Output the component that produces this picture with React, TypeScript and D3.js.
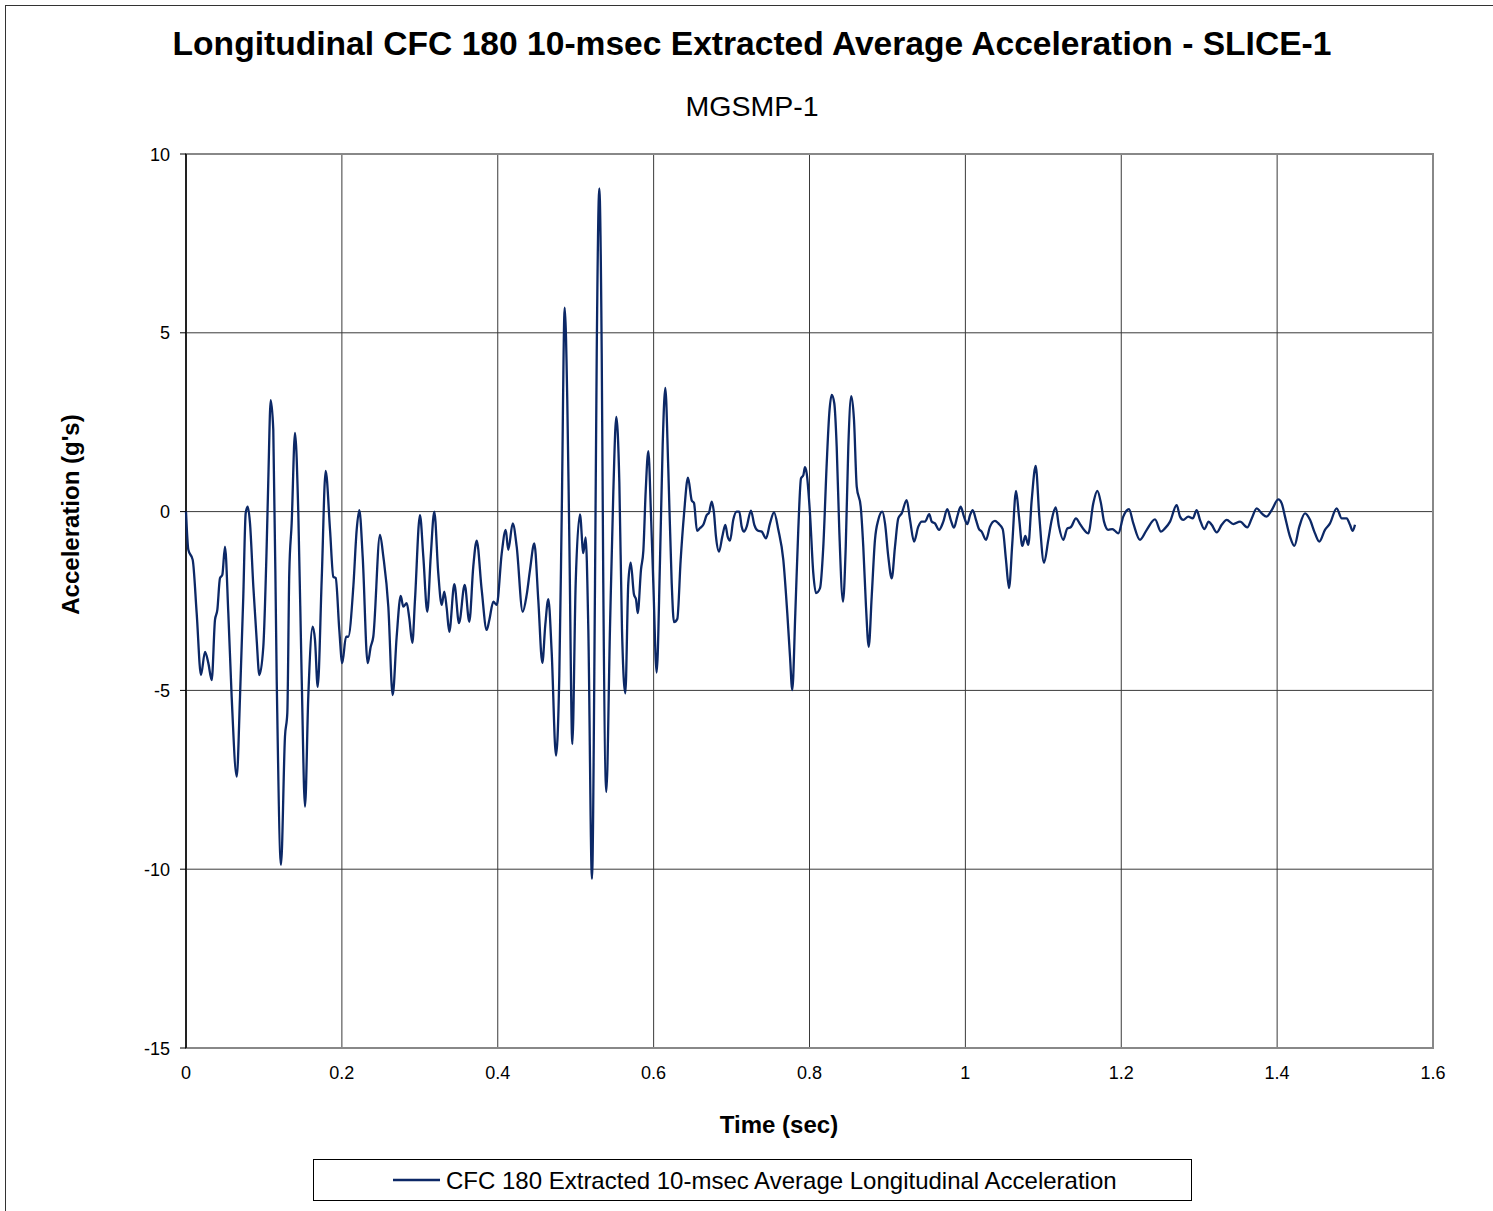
import React from "react";
import * as d3 from "d3";

const TITLE = "Longitudinal CFC 180 10-msec Extracted Average Acceleration - SLICE-1";
const SUBTITLE = "MGSMP-1";
const X_LABEL = "Time (sec)";
const Y_LABEL = "Acceleration (g's)";
const LEGEND_LABEL = "CFC 180 Extracted 10-msec Average Longitudinal Acceleration";

const X_TICKS = [0, 0.2, 0.4, 0.6, 0.8, 1, 1.2, 1.4, 1.6];
const Y_TICKS = [10, 5, 0, -5, -10, -15];

const TIME = [
  0, 0.003, 0.0086, 0.0137, 0.0192, 0.0244, 0.0286, 0.033, 0.0372, 0.0402, 0.0436, 0.0466, 0.05, 0.0543, 0.0586, 0.0651,
  0.0693, 0.0735, 0.0766, 0.0792, 0.0821, 0.0864, 0.0907, 0.0941, 0.0992, 0.1035, 0.1056, 0.1087, 0.112, 0.1164, 0.1219,
  0.127, 0.13, 0.1325, 0.1356, 0.1399, 0.1441, 0.1485, 0.1527, 0.1569, 0.1626, 0.1655, 0.169, 0.1741, 0.1792, 0.1848,
  0.189, 0.1921, 0.1967, 0.2005, 0.2053, 0.2082, 0.2147, 0.219, 0.2224,
  0.2267, 0.2331, 0.237, 0.2403, 0.2489, 0.2532, 0.2596, 0.2652, 0.2703, 0.2755, 0.2788, 0.2832, 0.2865, 0.2904, 0.2938,
  0.3002, 0.3045, 0.3096, 0.314, 0.3186, 0.3237, 0.3281, 0.3314, 0.3345, 0.3378, 0.3443, 0.3503, 0.3576, 0.3635, 0.3686,
  0.373, 0.3794, 0.3858, 0.3892, 0.3943, 0.3987, 0.4051, 0.4102, 0.4135, 0.4192, 0.4243, 0.432, 0.4371, 0.4414, 0.4469,
  0.452, 0.4572, 0.461, 0.4649,
  0.4692, 0.4747, 0.479, 0.4821, 0.4859, 0.4892, 0.4918, 0.4957, 0.5, 0.5055, 0.5098, 0.5128, 0.5162, 0.5209, 0.5248,
  0.527, 0.5303, 0.5334, 0.5354, 0.5393, 0.544, 0.5483, 0.5521, 0.556, 0.5594, 0.5637, 0.5675, 0.5706, 0.5748, 0.5774,
  0.5796, 0.5838, 0.5868, 0.5898, 0.5932, 0.5966, 0.5996, 0.6039, 0.6082, 0.6116, 0.615, 0.6188, 0.6232, 0.6261, 0.6304,
  0.6347, 0.639, 0.6441, 0.6489, 0.6518, 0.6557, 0.6595,
  0.6637, 0.6681, 0.6711, 0.6745, 0.6775, 0.68, 0.6839, 0.6881, 0.692, 0.695, 0.698, 0.7022, 0.7066, 0.7099, 0.713, 0.716,
  0.7194, 0.7249, 0.7292, 0.7335, 0.7387, 0.7442, 0.7493, 0.7545, 0.76, 0.7664, 0.7715, 0.775, 0.7779, 0.7818, 0.7856,
  0.7891, 0.7921, 0.7942, 0.7964, 0.8006, 0.8049, 0.8083, 0.8135, 0.8177, 0.8221, 0.8254, 0.8285, 0.8318, 0.8349, 0.8382,
  0.843, 0.8465, 0.8498, 0.8536, 0.8571, 0.8606, 0.8657, 0.869, 0.8725, 0.876, 0.8798, 0.884, 0.8883, 0.8934, 0.8969,
  0.9011, 0.9055, 0.9097, 0.9139, 0.9183, 0.9247, 0.929, 0.9341, 0.9396, 0.944, 0.9482, 0.9537, 0.9568, 0.961, 0.9662,
  0.9717, 0.9768, 0.9812, 0.9854, 0.9896, 0.994, 0.9982, 1.0025, 1.006, 1.0094, 1.0136, 1.0171, 1.0209, 1.0265, 1.0316,
  1.038, 1.0423, 1.0479, 1.0521, 1.056, 1.0602, 1.065, 1.0688, 1.0731, 1.0769, 1.0807, 1.0851, 1.0902, 1.0949, 1.1009,
  1.1064, 1.1108, 1.1159, 1.1201, 1.1256, 1.1308, 1.1351, 1.1419, 1.1471, 1.1522, 1.1577, 1.1641, 1.1693, 1.174, 1.1779,
  1.1834, 1.1885, 1.192,
  1.1962, 1.2026, 1.2099, 1.2155, 1.224, 1.2327, 1.2433, 1.251, 1.2561, 1.2626, 1.2711, 1.2754, 1.2796, 1.286, 1.2917,
  1.2968, 1.301, 1.3066, 1.3122, 1.3161, 1.3225, 1.3289, 1.3353, 1.3438, 1.3524, 1.3617, 1.3674, 1.3738, 1.3802, 1.3866,
  1.393, 1.4015, 1.4059, 1.4101, 1.4165, 1.4221, 1.4285, 1.4358, 1.4422, 1.4486, 1.4541, 1.4614, 1.4678, 1.4764, 1.4829,
  1.4893, 1.4935, 1.497, 1.4999,
];

const ACCEL = [
  0, -1.07, -1.35, -2.84, -4.57, -3.92, -4.23, -4.71, -3.03, -2.75, -1.86, -1.77, -0.98, -2.84, -5.18, -7.41,
  -5.18, -2.38, -0.04, 0.14, -0.32, -2.1, -3.59, -4.57, -3.78, -0.98, 0.88, 3.12, 2.28, -4.71, -9.88,
  -6.29, -5.63, -1.72, -0.32, 2.2, -0.04, -4.71, -8.25, -5.18, -3.22, -3.59, -4.9, -1.91, 1.14, -0.51,
  -1.82, -1.86, -3.31, -4.24, -3.5, -3.5, -2.1, -0.51, 0.04,
  -1.26, -4.24, -3.78, -3.5, -0.65, -1.26, -2.66, -5.13, -3.5, -2.36, -2.66, -2.56, -2.98, -3.67, -2.47,
  -0.1, -1.26, -2.8, -1.26, 0, -1.73, -2.61, -2.24, -2.7, -3.36, -2.03, -3.12, -2.05, -3.08, -1.54,
  -0.81, -2.19, -3.31, -3.03, -2.52, -2.61, -1.17, -0.51, -1.07, -0.33, -0.98, -2.8, -2.33, -1.63, -0.89,
  -2.47, -4.23, -3.17, -2.45,
  -3.93, -6.82, -4.57, -0.07, 5.7, 3.13, -0.71, -6.5, -2.0, -0.08, -1.16, -0.72, -3.28, -10.27, -2.0,
  4.42, 9.04, 4.42, -2.0, -7.84, -3.28, 0.56, 2.65, 0.83, -3.28, -5.08, -2.0, -1.43, -2.32, -2.45,
  -2.84, -1.62, -1.1, 0.56, 1.69, -0.08, -2.0, -4.5, -1.35, 1.85, 3.46, 1.21, -2.0, -3.09, -3.0,
  -1.35, -0.07, 0.95, 0.31, 0.24, -0.54, -0.46,
  -0.37, -0.1, -0.03, 0.28, -0.05, -0.7, -1.12, -0.7, -0.37, -0.7, -0.81, -0.23, 0, 0, -0.42, -0.56,
  -0.42, 0.03, -0.37, -0.53, -0.56, -0.75, -0.33, -0.02, -0.51, -1.35, -2.84, -4.06, -4.99, -2.84, -0.51,
  0.93, 1.02, 1.24, 1.07, -0.05, -1.73, -2.28, -2.14, -0.98, 1.35, 2.75, 3.26, 3.03, 1.81, -0.51,
  -2.52, -0.98, 1.81, 3.23, 2.56, 0.7, 0.14, -0.98, -2.66, -3.78, -2.38, -0.79, -0.23, 0, -0.33,
  -1.26, -1.87, -0.98, -0.19, -0.05, 0.32, -0.23, -0.84, -0.42, -0.28, -0.28, -0.07, -0.28, -0.33, -0.51,
  -0.28, 0.07, -0.23, -0.45, -0.14, 0.14, -0.14, -0.35, -0.1, 0.04, -0.23, -0.47, -0.56, -0.79, -0.42,
  -0.26, -0.33, -0.49, -1.35, -2.14, -0.89, 0.58, -0.14, -0.96, -0.68, -0.93, 0.32, 1.28, -0.14, -1.43,
  -0.79, -0.23, 0.12, -0.42, -0.79, -0.47, -0.44, -0.19, -0.35, -0.51, -0.61, 0.23, 0.58, 0.23, -0.28,
  -0.51, -0.49, -0.54,
  -0.61, -0.14, 0.07, -0.33, -0.79, -0.51, -0.22, -0.56, -0.47, -0.28, 0.18, -0.14, -0.23, -0.14, -0.19,
  0.04, -0.23, -0.49, -0.28, -0.37, -0.58, -0.37, -0.23, -0.35, -0.28, -0.44, -0.19, 0.09, -0.05, -0.14,
  0.04, 0.34, 0.23, -0.14, -0.7, -0.96, -0.42, -0.05, -0.23, -0.61, -0.84, -0.51, -0.33, 0.09, -0.19,
  -0.19, -0.37, -0.54, -0.37,
];

const W = 1493;
const H = 1211;
const PLOT = { left: 186, right: 1433, top: 154, bottom: 1048 };
const FONT = "'Liberation Sans', Arial, Helvetica, sans-serif";
const LINE_COLOR = "#0c2866";

export default function App() {
  const x = d3.scaleLinear().domain([0, 1.6]).range([PLOT.left, PLOT.right]);
  const y = d3.scaleLinear().domain([-15, 10]).range([PLOT.bottom, PLOT.top]);
  const data = TIME.map((t, i) => [t, ACCEL[i]] as [number, number]);
  const line = d3
    .line<[number, number]>()
    .x((d) => x(d[0]))
    .y((d) => y(d[1]))
    .curve(d3.curveMonotoneX);
  const path = line(data) || "";
  const cx = 752;

  return (
    <svg
      width={W}
      height={H}
      style={{ position: "absolute", left: 0, top: 0, background: "#fff" }}
      fontFamily={FONT}
    >
      <rect x={0} y={0} width={W} height={H} fill="#fff" />
      <rect x={5.5} y={5.5} width={W + 10} height={H + 10} fill="none" stroke="#333" strokeWidth={1} />

      <text x={cx} y={55} textAnchor="middle" fontSize={33.6} fontWeight="bold" fill="#000">
        {TITLE}
      </text>
      <text x={cx} y={116} textAnchor="middle" fontSize={28.5} fill="#000">
        {SUBTITLE}
      </text>

      {Y_TICKS.map((v) => (
        <line key={"gy" + v} x1={PLOT.left} x2={PLOT.right} y1={y(v)} y2={y(v)} stroke="#3a3a3a" strokeWidth={1} />
      ))}
      {X_TICKS.map((v) => (
        <line key={"gx" + v} x1={x(v)} x2={x(v)} y1={PLOT.top} y2={PLOT.bottom} stroke="#3a3a3a" strokeWidth={1} />
      ))}
      <rect
        x={PLOT.left}
        y={PLOT.top}
        width={PLOT.right - PLOT.left}
        height={PLOT.bottom - PLOT.top}
        fill="none"
        stroke="#888"
        strokeWidth={2}
      />
      <line x1={PLOT.left} x2={PLOT.left} y1={PLOT.top} y2={PLOT.bottom} stroke="#000" strokeWidth={1.5} />
      {Y_TICKS.map((v) => (
        <line key={"ty" + v} x1={PLOT.left - 6} x2={PLOT.left} y1={y(v)} y2={y(v)} stroke="#000" strokeWidth={1} />
      ))}

      <path d={path} fill="none" stroke={LINE_COLOR} strokeWidth={2.3} strokeLinejoin="round" />

      {Y_TICKS.map((v) => (
        <text key={"ly" + v} x={170} y={y(v) + 6.5} textAnchor="end" fontSize={18} fill="#000">
          {String(v)}
        </text>
      ))}
      {X_TICKS.map((v) => (
        <text key={"lx" + v} x={x(v)} y={1079} textAnchor="middle" fontSize={18} fill="#000">
          {String(v)}
        </text>
      ))}

      <text x={779} y={1133} textAnchor="middle" fontSize={24} fontWeight="bold" fill="#000">
        {X_LABEL}
      </text>
      <text
        transform={`translate(79, 514.5) rotate(-90)`}
        textAnchor="middle"
        fontSize={24}
        fontWeight="bold"
        fill="#000"
      >
        {Y_LABEL}
      </text>

      <rect x={313.5} y={1159.5} width={878} height={41} fill="#fff" stroke="#000" strokeWidth={1} />
      <line x1={393} x2={440} y1={1180} y2={1180} stroke={LINE_COLOR} strokeWidth={2.3} />
      <text x={446} y={1189} fontSize={24} fill="#000">
        {LEGEND_LABEL}
      </text>
    </svg>
  );
}
